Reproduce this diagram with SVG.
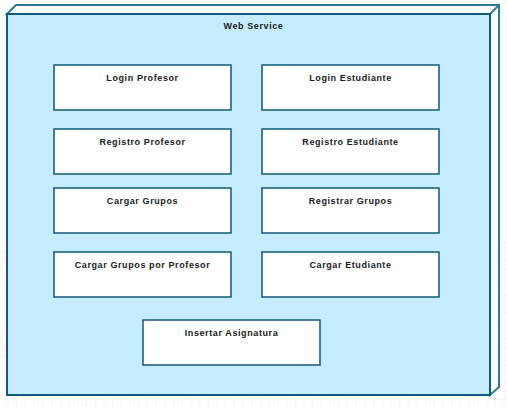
<svg xmlns="http://www.w3.org/2000/svg" width="507" height="407" viewBox="0 0 507 407">
  <defs>
    <pattern id="grid" width="8.7" height="8.7" patternUnits="userSpaceOnUse" x="0" y="0">
      <path d="M8.7 0 V8.7 M0 8.7 H8.7" fill="none" stroke="#ebebeb" stroke-width="1"/>
    </pattern>
    <style>
      .comp rect { fill: #ffffff; stroke: #0f5a7c; stroke-width: 1.5; }
      .comp text, .title { font-family: "Liberation Sans", Arial, sans-serif; font-size: 9px; font-weight: bold; letter-spacing: 0.6px; fill: #1a1a1a; text-anchor: middle; }
      .edge { stroke: #2e7a96; stroke-width: 2; fill: #ffffff; stroke-linejoin: miter; }
    </style>
  </defs>
  <rect x="0" y="0" width="507" height="407" fill="#ffffff"/>
  <rect x="0" y="240" width="507" height="167" fill="url(#grid)"/>

  <g id="web-service">
    <path class="edge" d="M7 14 L16 5 L499 5 L499 387 L490 395 L490 14 Z"/>
    <path class="edge" d="M490 14 L499 5" fill="none"/>
    <rect x="7" y="14" width="483" height="381" fill="#c5edff" stroke="#0f5a7c" stroke-width="2"/>
    <text class="title" x="253.5" y="28.5">Web Service</text>
  </g>

  <g id="login-profesor" class="comp">
    <rect x="54" y="65" width="177" height="45"/>
    <text x="142.5" y="80.5">Login Profesor</text>
  </g>
  <g id="login-estudiante" class="comp">
    <rect x="262" y="65" width="177" height="45"/>
    <text x="350.5" y="80.5">Login Estudiante</text>
  </g>
  <g id="registro-profesor" class="comp">
    <rect x="54" y="129" width="177" height="45"/>
    <text x="142.5" y="144.5">Registro Profesor</text>
  </g>
  <g id="registro-estudiante" class="comp">
    <rect x="262" y="129" width="177" height="45"/>
    <text x="350.5" y="144.5">Registro Estudiante</text>
  </g>
  <g id="cargar-grupos" class="comp">
    <rect x="54" y="188" width="177" height="45"/>
    <text x="142.5" y="203.5">Cargar Grupos</text>
  </g>
  <g id="registrar-grupos" class="comp">
    <rect x="262" y="188" width="177" height="45"/>
    <text x="350.5" y="203.5">Registrar Grupos</text>
  </g>
  <g id="cargar-grupos-profesor" class="comp">
    <rect x="54" y="252" width="177" height="45"/>
    <text x="142.5" y="268">Cargar Grupos por Profesor</text>
  </g>
  <g id="cargar-etudiante" class="comp">
    <rect x="262" y="252" width="177" height="45"/>
    <text x="350.5" y="268">Cargar Etudiante</text>
  </g>
  <g id="insertar-asignatura" class="comp">
    <rect x="143" y="320" width="177" height="45"/>
    <text x="231.5" y="335.5">Insertar Asignatura</text>
  </g>

  <g id="connectors"></g>
</svg>
